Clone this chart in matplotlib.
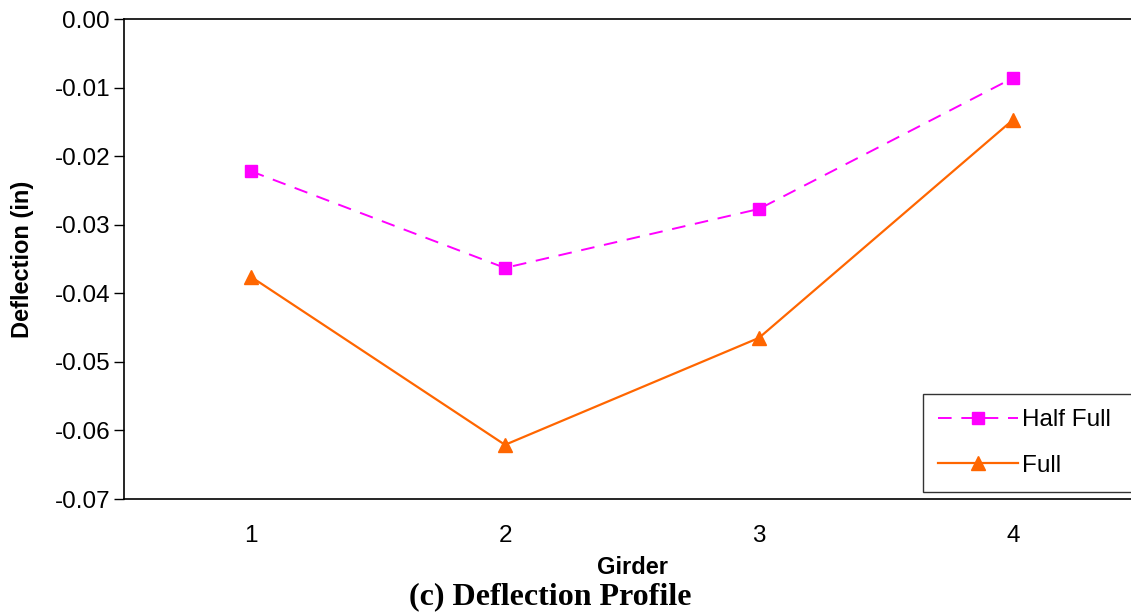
import matplotlib
matplotlib.use("Agg")
import matplotlib.pyplot as plt

plt.rcParams['font.family'] = ['Liberation Sans', 'DejaVu Sans']

girders = [1, 2, 3, 4]
half_full = [-0.0222, -0.0363, -0.0277, -0.0086]
full = [-0.0376, -0.0621, -0.0465, -0.0147]

fig = plt.figure(figsize=(11.31, 6.13), dpi=100)
ax = fig.add_axes([124 / 1131, 114 / 613, 1016 / 1131, 480 / 613])

ax.plot(girders, half_full, color='#ff00ff', linestyle=(0, (7, 5)), linewidth=1.4,
        marker='s', markersize=9, label='Half Full', clip_on=False)
ax.plot(girders, full, color='#ff6600', linestyle='-', linewidth=1.6,
        marker='^', markersize=10, label='Full', clip_on=False)

ax.set_xlim(0.5, 4.5)
ax.set_ylim(-0.07, 0.0)
ax.set_xticks(girders)
ax.set_xticklabels([str(g) for g in girders])
ax.set_yticks([-0.07, -0.06, -0.05, -0.04, -0.03, -0.02, -0.01, 0.0])
ax.set_yticklabels(['-0.07', '-0.06', '-0.05', '-0.04', '-0.03', '-0.02', '-0.01', '0.00'])
ax.tick_params(axis='y', direction='out', length=7, width=1, labelsize=17.5, pad=3)
ax.tick_params(axis='x', length=0, labelsize=17.5, pad=19)

for side in ['left', 'bottom', 'top', 'right']:
    ax.spines[side].set_linewidth(1.2)

ax.set_xlabel('Girder', fontsize=17, fontweight='bold', labelpad=6)
ax.set_ylabel('Deflection (in)', fontsize=17, fontweight='bold', labelpad=15)

leg = ax.legend(loc='upper left', bbox_to_anchor=(923 / 1131, 1 - 395 / 613, 0.25, 0.001),
                bbox_transform=fig.transFigure, mode='expand', fontsize=17.5,
                frameon=True, fancybox=False, borderaxespad=0, handlelength=3.3,
                handletextpad=0.15, labelspacing=0.95, borderpad=0.62)
leg.get_frame().set_edgecolor('black')
leg.get_frame().set_linewidth(1.0)

fig.text(550 / 1131, 1 - 597 / 613, '(c) Deflection Profile', ha='center', va='center',
         fontsize=23, fontweight='bold', family=['Liberation Serif', 'DejaVu Serif'])

fig.savefig('out.png', dpi=100)
